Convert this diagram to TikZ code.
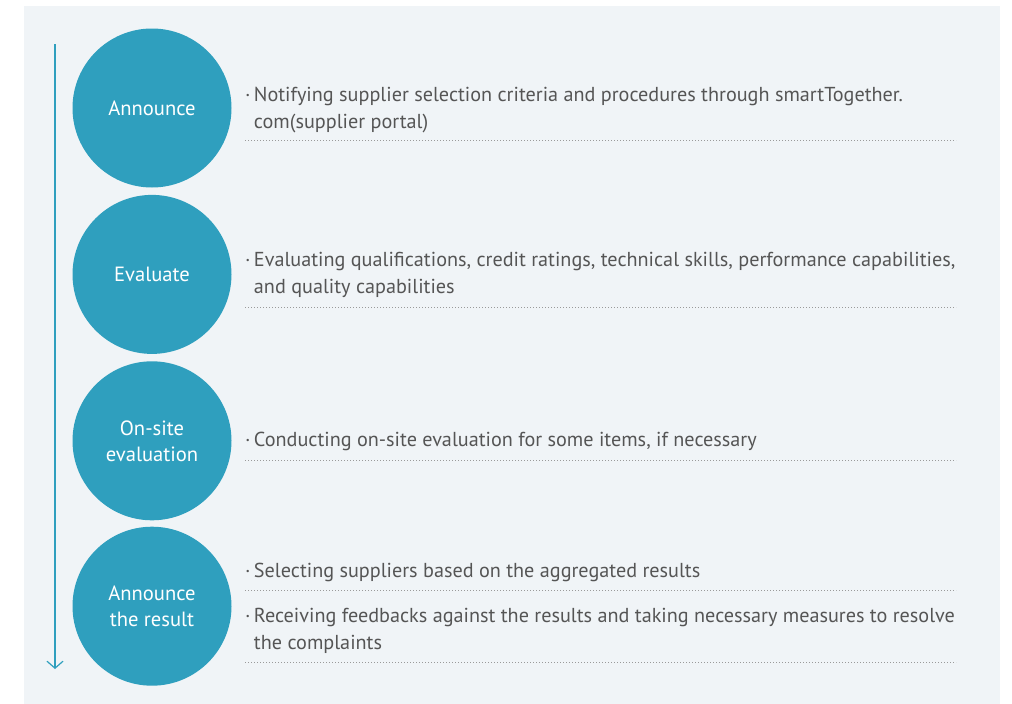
\documentclass[tikz,border=0pt]{standalone}
\usepackage{fontspec}
\setmainfont{PT Sans}
\usetikzlibrary{arrows.meta, positioning}
\definecolor{panel}{HTML}{F0F4F7}
\definecolor{teal}{HTML}{2F9FBE}
\definecolor{ink}{HTML}{555555}
\definecolor{dots}{HTML}{9A9A9A}
\newcommand{\bul}{\textperiodcentered\,}
\newcommand{\ind}{\phantom{\textperiodcentered\,}}

\begin{document}
\begin{tikzpicture}[x=1pt, y=-1pt,
    stage/.style={circle, fill=teal, minimum size=159pt, inner sep=0pt,
                  align=center, text=white, font=\fontsize{20.6}{26}\selectfont},
    desc/.style={anchor=west, align=left, inner sep=0pt, text=ink,
                 font=\fontsize{20.2}{26.5}\selectfont},
    sep/.style={dots, line width=0.8pt, dash pattern=on 0.8pt off 2.2pt},
    flow/.style={teal, line width=1.2pt, -{Straight Barb[length=7pt, width=16pt]}}
  ]
  \useasboundingbox (0,0) rectangle (1012,704);
  \fill[panel] (24,6) rectangle (1000,704);

  \coordinate (top) at (55,44);
  \coordinate (bottom) at (55,669);
  \draw[flow] (top) -- (bottom);

  \node[stage] (announce) at (152,108) {Announce};
  \node[stage, below=7pt of announce] (evaluate) {Evaluate};
  \node[stage, below=7pt of evaluate] (onsite) {On-site\\evaluation};
  \node[stage, below=6pt of onsite] (result) {Announce\\the result};

  \node[desc] (d1) at (245,110) {\bul Notifying supplier selection criteria and procedures through smartTogether.\\\ind com(supplier portal)};
  \node[desc] (d2) at (245,275) {\bul Evaluating qualifications, credit ratings, technical skills, performance capabilities,\\\ind and quality capabilities};
  \node[desc] (d3) at (245,441) {\bul Conducting on-site evaluation for some items, if necessary};
  \node[desc] (d4) at (245,572) {\bul Selecting suppliers based on the aggregated results};
  \node[desc] (d5) at (245,631) {\bul Receiving feedbacks against the results and taking necessary measures to resolve\\\ind the complaints};

  % dotted rules under each block
  \foreach \y in {140,307,460,590,662}
    \draw[sep] (245,\y) -- (956,\y);
\end{tikzpicture}
\end{document}
